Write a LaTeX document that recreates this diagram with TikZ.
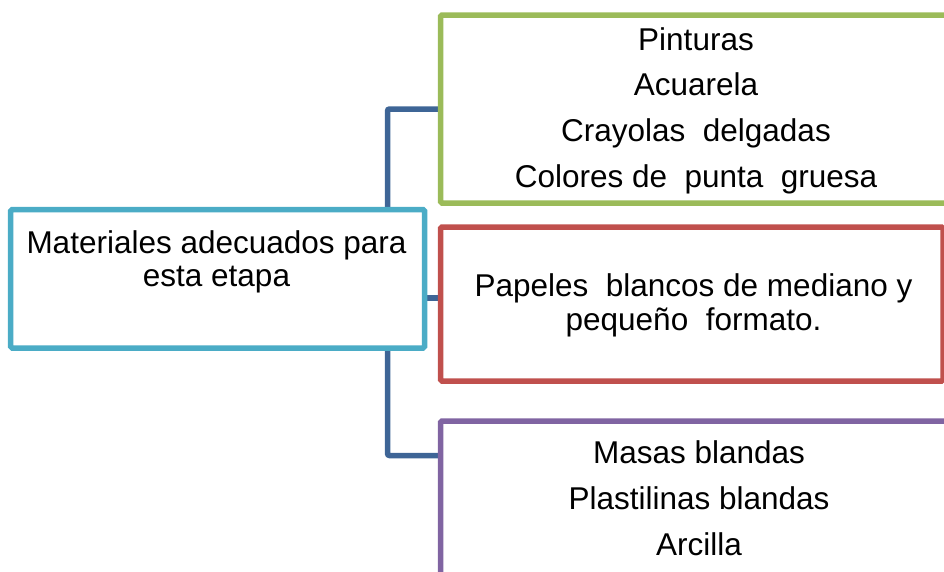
\documentclass[tikz,border=0pt]{standalone}
\usepackage{fontspec}
\setmainfont{Liberation Sans}
\usepackage{xcolor}
\usepackage{tikz}
\usetikzlibrary{backgrounds}
\definecolor{temacyan}{RGB}{75,172,198}
\definecolor{verdeacc}{RGB}{155,187,89}
\definecolor{rojoacc}{RGB}{192,80,77}
\definecolor{moradoacc}{RGB}{128,100,162}
\definecolor{azulenlace}{RGB}{62,101,150}

\begin{document}
\begin{tikzpicture}[
    x=1pt, y=-1pt,
    caja/.style={rectangle, draw=#1, fill=white, line width=5.5pt, rounded corners=1.5pt, inner sep=0pt, outer sep=0pt},
    texto/.style={font=\fontsize{31.5}{33.3}\selectfont, align=center, inner sep=0pt, anchor=base},
    lista/.style={texto, font=\fontsize{31.5}{45.7}\selectfont},
    enlace/.style={draw=azulenlace, line width=5.5pt, rounded corners=2pt}
]
\useasboundingbox (0,0) rectangle (944,571);

% cajas
\node[caja=temacyan, minimum width=413.8pt, minimum height=138.5pt] (tema) at (217.6,278.75) {};
\node[caja=verdeacc, minimum width=511pt, minimum height=188pt] (pinturas) at (696,109) {};
\node[caja=rojoacc, minimum width=502.5pt, minimum height=154pt] (papeles) at (691.75,304) {};
\node[caja=moradoacc, minimum width=517.5pt, minimum height=169pt] (masas) at (699.25,505.5) {};

% textos (base = ultima linea)
\node[texto] (tema-txt) at (216.5,286.7) {Materiales adecuados para\\esta etapa};
\node[lista] (pinturas-txt) at (696,187.3) {Pinturas\\Acuarela\\Crayolas\ \ delgadas\\Colores de\ \ punta\ \ gruesa};
\node[texto] (papeles-txt) at (693.5,330) {Papeles\ \ blancos de mediano y\\peque\~no\ \ formato.};
\node[lista] (masas-txt) at (699,555) {Masas blandas\\Plastilinas blandas\\Arcilla};

% conectores
\begin{scope}[on background layer]
\coordinate (tronco) at (387.5,455.5);
\coordinate (puente) at (432,298);
\draw[enlace] (pinturas.west) -| (tronco) -- (tronco -| masas.west);
\draw[enlace] (puente -| tema.east) -- (puente -| papeles.west);
\end{scope}
\end{tikzpicture}
\end{document}
